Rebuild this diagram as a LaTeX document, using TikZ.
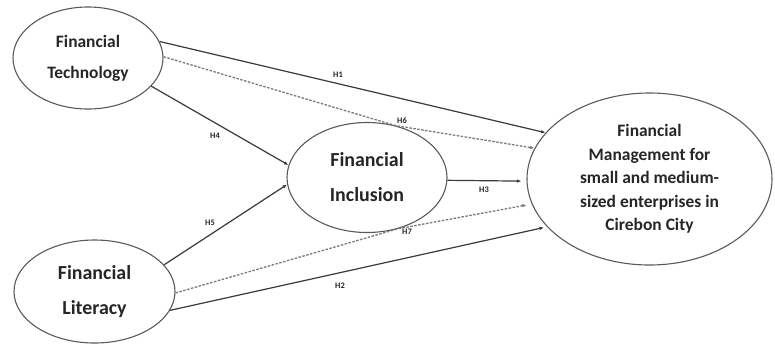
\documentclass[tikz,border=0pt]{standalone}
\usepackage{fontspec}
\setmainfont{Carlito}
\usetikzlibrary{shapes.geometric,arrows.meta}
\definecolor{ellcol}{HTML}{5A5A5A}
\definecolor{linecol}{HTML}{3A3A3A}
\definecolor{dashcol}{HTML}{7A7A7A}
\definecolor{textcol}{HTML}{262626}
\begin{document}
\begin{tikzpicture}[x=1bp,y=-1bp,
  latent/.style={ellipse, draw=ellcol, line width=1.1bp, inner sep=0pt, align=center, text=textcol, fill=white},
  arrowline/.style={draw=linecol, line width=1.2bp, -{Latex[length=4.5bp,width=3.5bp]}},
  dashline/.style={draw=dashcol, line width=1.3bp, dash pattern=on 2.5bp off 1.5bp, -{Latex[length=4.5bp,width=3.5bp]}},
  hlab/.style={font=\bfseries\fontsize{8.5}{9}\selectfont, text=textcol, inner sep=0pt}]
\useasboundingbox[fill=white] (0,0) rectangle (775,345);

\node[latent, minimum width=150bp, minimum height=102bp, font=\bfseries\fontsize{17.5}{31}\selectfont] (ft) at (88,58) {Financial\\Technology};
\node[latent, minimum width=161bp, minimum height=103bp, font=\bfseries\fontsize{20}{35}\selectfont] (fl) at (94.5,291.5) {Financial\\Literacy};
\node[latent, minimum width=160bp, minimum height=110bp, font=\bfseries\fontsize{20}{35}\selectfont] (fi) at (367,177.5) {Financial\\Inclusion};
\node[latent, minimum width=245bp, minimum height=172bp, font=\bfseries\fontsize{17.5}{23.5}\selectfont] (fm) at (649.5,179) {Financial\\Management for\\small and medium-\\sized enterprises in\\Cirebon City};

% H1, H2 direct paths
\draw[arrowline] (ft.13) -- (fm.156.5);
\draw[arrowline, shorten >=3bp] (fl.-14) -- (fm.205);
% H4, H5 to Financial Inclusion
\draw[arrowline] (ft.-24) -- (fi.171.5);
\draw[arrowline] (fl.21.5) -- (fi.185);
% H3
\draw[arrowline, shorten >=5bp] (fi.-2) -- (fm.181);
% H6, H7 mediated (dashed)
\draw[dashline] (ft.1) -- (fi.61) -- (fm.165);
\draw[dashline, shorten >=5bp] (fl.-1) -- (fi.-59) -- (fm.192);

% labels
\node[hlab] (h1) at (338,75) {H1};
\node[hlab] (h2) at (340,286) {H2};
\node[hlab] (h3) at (484,190) {H3};
\node[hlab] (h4) at (215,136) {H4};
\node[hlab] (h5) at (210,223) {H5};
\node[hlab] (h6) at (402,121) {H6};
\node[hlab] (h7) at (407,232) {H7};
\end{tikzpicture}
\end{document}
